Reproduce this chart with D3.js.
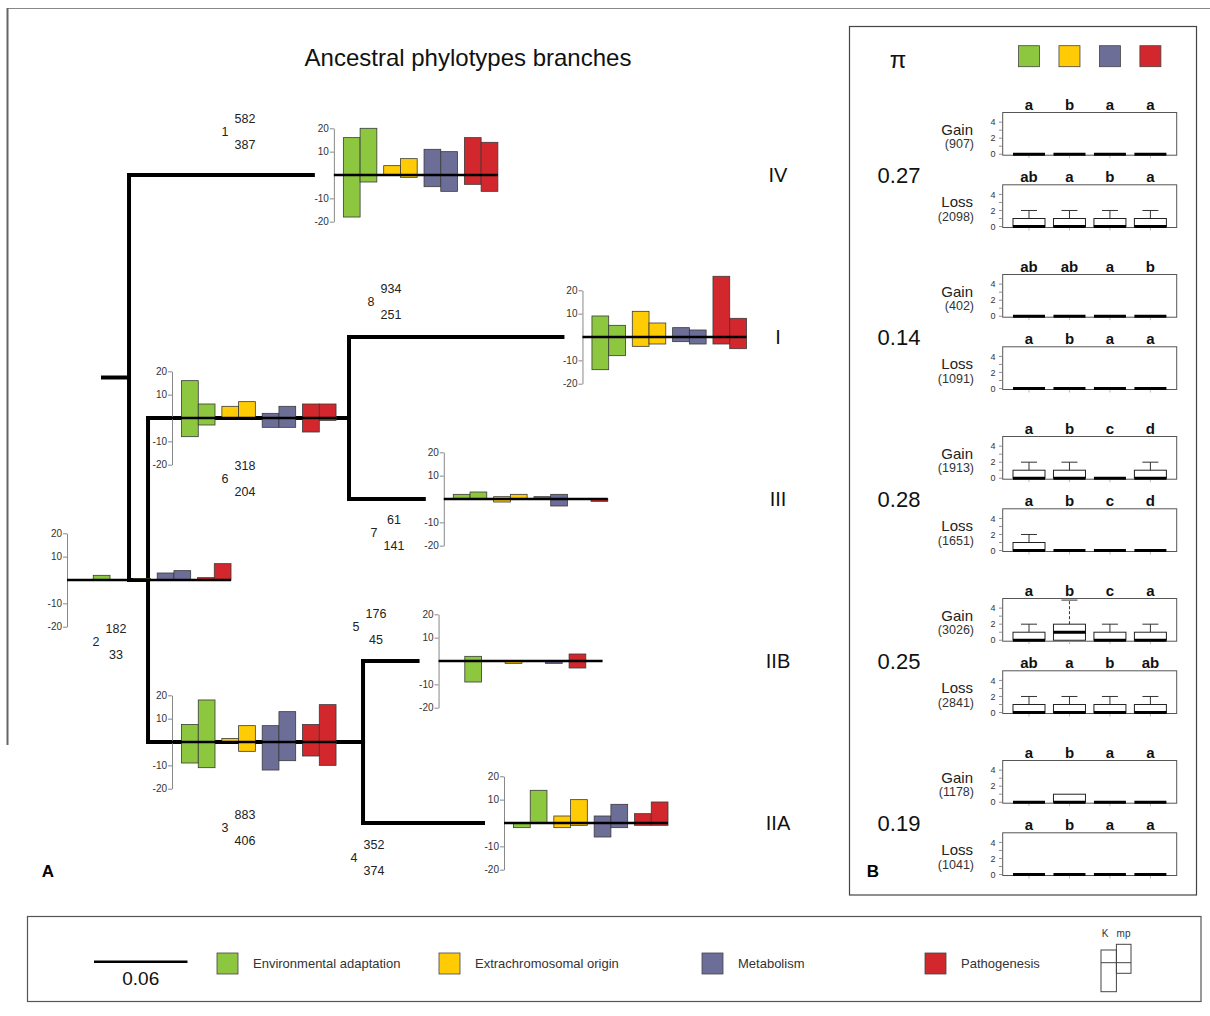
<!DOCTYPE html>
<html>
<head>
<meta charset="utf-8">
<script src="https://cdn.jsdelivr.net/npm/d3@7"></script>
<style>
  body { margin: 0; background: #fff; }
  svg { display: block; }
  text { font-family: "Liberation Sans", Arial, Helvetica, sans-serif; }
</style>
</head>
<body>
<svg id="fig" width="1210" height="1016"></svg>
<script>
// ---------- data ----------
const categories = ["Environmental adaptation", "Extrachromosomal origin", "Metabolism", "Pathogenesis"];
const categoryColors = ["#8dc63f", "#ffcb05", "#6d6e98", "#d2272d"];
const methods = ["K", "mp"];
const clades = ["IV", "I", "III", "IIB", "IIA"];

// phylogeny (branch lengths, substitutions/site)
const treeNodes = [
  { id: "root", parent: null,   length: 0.0167 },
  { id: "IV",   parent: "root", length: 0.118 },
  { id: "n2",   parent: "root", length: 0.0122 },
  { id: "n6",   parent: "n2",   length: 0.129 },
  { id: "n3",   parent: "n2",   length: 0.138 },
  { id: "I",    parent: "n6",   length: 0.137 },
  { id: "III",  parent: "n6",   length: 0.048 },
  { id: "IIB",  parent: "n3",   length: 0.035 },
  { id: "IIA",  parent: "n3",   length: 0.077 }
];

// numbered branches: node carrying the branch, upper / lower counts
const branchNodes = ["IV", "n2", "n3", "IIA", "IIB", "n6", "III", "I"];
const branchUpper = [582, 182, 883, 352, 176, 318, 61, 934];
const branchLower = [387, 33, 406, 374, 45, 204, 141, 251];

// floating bars per branch: [low, high] for K then mp, per category
const bars1 = [[-18, 16], [-3, 20], [0, 4], [-1, 7], [-5, 11], [-7, 10], [-4, 16], [-7, 14]];
const bars2 = [[0, 0], [0, 2], [0, 0], [0, 0.6], [0, 3], [0, 4], [0, 1], [0, 7]];
const bars3 = [[-9, 7.5], [-11, 18], [0, 1.5], [-4, 7], [-12, 7], [-8, 13], [-6, 7.5], [-10, 16]];
const bars4 = [[-2, 0], [0, 14], [-2, 3], [-1, 10], [-6, 3], [-2, 8], [-1, 4], [-1, 9]];
const bars5 = [[0, 0], [-9, 2], [0, 0], [-1, 0], [0, 0], [-1, 0], [-3, 3], [0, 0]];
const bars6 = [[-8, 16], [-3, 6], [0, 5], [0, 7], [-4, 2], [-4, 5], [-6, 6], [-1, 6]];
const bars7 = [[0, 2], [0, 3], [-1.3, 1], [0, 2], [0, 1], [-3, 2], [0, 0], [-1, 0]];
const bars8 = [[-14, 9], [-8, 5], [-4, 11], [-3, 6], [-2, 4], [-3, 3], [-3, 26], [-5, 8]];
const barsByBranch = [bars1, bars2, bars3, bars4, bars5, bars6, bars7, bars8];
const barTicks = [-20, -10, 10, 20];

// panel B
const piValues = [0.27, 0.14, 0.28, 0.25, 0.19];
const gainCounts = [907, 402, 1913, 3026, 1178];
const lossCounts = [2098, 1091, 1651, 2841, 1041];
const gainLetters = [["a","b","a","a"], ["ab","ab","a","b"], ["a","b","c","d"], ["a","b","c","a"], ["a","b","a","a"]];
const lossLetters = [["ab","a","b","a"], ["a","b","a","a"], ["a","b","c","d"], ["ab","a","b","ab"], ["a","b","a","a"]];
// box statistics: [q1, median, q3, upper whisker]
const gainStats = [
  [[0,0,0,0], [0,0,0,0], [0,0,0,0], [0,0,0,0]],
  [[0,0,0,0], [0,0,0,0], [0,0,0,0], [0,0,0,0]],
  [[0,0,1,2], [0,0,1,2], [0,0,0,0], [0,0,1,2]],
  [[0,0,1,2], [0,1,2,5], [0,0,1,2], [0,0,1,2]],
  [[0,0,0,0], [0,0,1,1], [0,0,0,0], [0,0,0,0]]
];
const lossStats = [
  [[0,0,1,2], [0,0,1,2], [0,0,1,2], [0,0,1,2]],
  [[0,0,0,0], [0,0,0,0], [0,0,0,0], [0,0,0,0]],
  [[0,0,1,2], [0,0,0,0], [0,0,0,0], [0,0,0,0]],
  [[0,0,1,2], [0,0,1,2], [0,0,1,2], [0,0,1,2]],
  [[0,0,0,0], [0,0,0,0], [0,0,0,0], [0,0,0,0]]
];
const boxTicks = [0, 1, 2, 3, 4];
const boxTickLabels = [0, 2, 4];
const scaleBarValue = 0.06;

// ---------- layout ----------
const layout = {
  chartPlace: [
    { ref: "end", dx: 21 }, { ref: "start", dx: -62 }, { ref: "start", dx: 24 }, { ref: "end", dx: 21 },
    { ref: "end", dx: 21 }, { ref: "start", dx: 24 }, { ref: "end", dx: 20 }, { ref: "end", dx: 20 }
  ],
  labelPlace: [[96, -43], [-33, 62], [77, 86], [-9, 35], [-7, -34], [77, 61], [25, 34], [22, -35]],
  legendX: [217, 439, 702, 925]
};

const svg = d3.select("#fig");
svg.append("rect").attr("width", 1210).attr("height", 1016).attr("fill", "#fff");

// frame lines of panel A
svg.append("line").attr("x1", 7).attr("x2", 1210).attr("y1", 8.5).attr("y2", 8.5)
  .attr("stroke", "#888").attr("stroke-width", 1.2);
svg.append("line").attr("x1", 7.5).attr("x2", 7.5).attr("y1", 8).attr("y2", 745)
  .attr("stroke", "#666").attr("stroke-width", 2);

// title
svg.append("text").attr("x", 468).attr("y", 66).attr("text-anchor", "middle")
  .attr("font-size", 24).attr("fill", "#111").text("Ancestral phylotypes branches");

// ---------- tree ----------
const xTree = d3.scaleLinear().domain([0, 1]).range([103, 103 + 1558]);
const yLeaf = d3.scalePoint().domain(clades).range([175, 823]);

const root = d3.stratify().id(d => d.id).parentId(d => d.parent)(treeNodes);
root.eachBefore(n => { n.dist = (n.parent ? n.parent.dist : 0) + n.data.length; n.px = xTree(n.dist); });
root.eachAfter(n => { n.py = n.children ? d3.mean(n.children, c => c.py) : yLeaf(n.id); });

const treeG = svg.append("g").attr("stroke", "#000").attr("stroke-width", 4).attr("stroke-linecap", "square");
treeG.append("line").attr("x1", xTree(0)).attr("x2", root.px).attr("y1", root.py).attr("y2", root.py);
root.descendants().forEach(n => {
  if (n.parent) {
    treeG.append("line").attr("x1", n.parent.px).attr("x2", n.px).attr("y1", n.py).attr("y2", n.py);
  }
  if (n.children) {
    const ys = n.children.map(c => c.py);
    treeG.append("line").attr("x1", n.px).attr("x2", n.px)
      .attr("y1", d3.min(ys)).attr("y2", d3.max(ys));
  }
});

const nodeById = new Map(root.descendants().map(n => [n.id, n]));

// clade names
clades.forEach(c => {
  svg.append("text").attr("x", 778).attr("y", yLeaf(c)).attr("dy", "0.35em")
    .attr("text-anchor", "middle").attr("font-size", 20).attr("fill", "#111").text(c);
});

// ---------- branch bar charts ----------
const catBand = d3.scaleBand().domain(categories).range([9.5, 164]).paddingInner(0.17);
const subBand = d3.scaleBand().domain(methods).range([0, catBand.bandwidth()]);
const yBar = d3.scaleLinear().domain([-20, 20]).range([46.7, -46.7]);

branchNodes.forEach((id, bi) => {
  const node = nodeById.get(id);
  const place = layout.chartPlace[bi];
  const ax = (place.ref === "end" ? node.px : node.parent.px) + place.dx;
  const g = svg.append("g").attr("transform", `translate(${ax},${node.py})`);

  const axis = g.append("g").call(
    d3.axisLeft(yBar).tickValues(barTicks).tickFormat(d => String(d))
      .tickSize(4).tickSizeOuter(0).tickPadding(1)
  );
  axis.select(".domain").attr("stroke", "#888");
  axis.selectAll(".tick line").attr("stroke", "#888");
  axis.selectAll(".tick text").attr("font-size", 10).attr("fill", "#333")
    .attr("font-family", "'Liberation Sans', Arial, sans-serif");

  const data = barsByBranch[bi].map((v, i) => ({
    cat: categories[Math.floor(i / 2)], color: categoryColors[Math.floor(i / 2)],
    method: methods[i % 2], low: v[0], high: v[1]
  })).filter(d => d.high !== d.low);

  g.selectAll("rect.bar").data(data).join("rect").attr("class", "bar")
    .attr("x", d => catBand(d.cat) + subBand(d.method))
    .attr("width", subBand.bandwidth())
    .attr("y", d => yBar(d.high))
    .attr("height", d => yBar(d.low) - yBar(d.high))
    .attr("fill", d => d.color)
    .attr("stroke", "#3a3a3a").attr("stroke-width", 0.8);

  g.append("line").attr("x1", 0).attr("x2", catBand.range()[1])
    .attr("y1", yBar(0)).attr("y2", yBar(0))
    .attr("stroke", "#000").attr("stroke-width", 2.6);

  // branch number with its two counts
  const [ldx, ldy] = layout.labelPlace[bi];
  const lx = node.parent.px + ldx, ly = node.py + ldy;
  const lab = svg.append("g").attr("font-size", 12.5).attr("fill", "#222").attr("text-anchor", "middle");
  lab.append("text").attr("x", lx).attr("y", ly).attr("dy", "0.35em").text(bi + 1);
  lab.append("text").attr("x", lx + 20).attr("y", ly - 13).attr("dy", "0.35em").text(branchUpper[bi]);
  lab.append("text").attr("x", lx + 20).attr("y", ly + 13).attr("dy", "0.35em").text(branchLower[bi]);
});

svg.append("text").attr("x", 48).attr("y", 877).attr("text-anchor", "middle")
  .attr("font-size", 17).attr("font-weight", "bold").text("A");

// ---------- panel B ----------
svg.append("rect").attr("x", 849.5).attr("y", 26.5).attr("width", 347).attr("height", 868.5)
  .attr("fill", "none").attr("stroke", "#444").attr("stroke-width", 1.2);

const xBox = d3.scalePoint().domain(categories).range([1002.7, 1176.7]).padding(0.65);
const boxW = 32, panelH = 42.7;

svg.append("text").attr("x", 898).attr("y", 60).attr("dy", "0.35em").attr("text-anchor", "middle")
  .attr("font-size", 24).attr("fill", "#111").text("π");
categories.forEach((c, i) => {
  svg.append("rect").attr("x", xBox(c) - 10.5).attr("y", 45.7).attr("width", 21).attr("height", 21)
    .attr("fill", categoryColors[i]).attr("stroke", "#444").attr("stroke-width", 0.8);
});

function drawBoxPanel(top, stats, letters, label, count) {
  const y = d3.scaleLinear().domain([-0.12, 5.2]).range([top + panelH, top]);
  const g = svg.append("g");
  g.append("rect").attr("x", 1002.7).attr("y", top).attr("width", 174).attr("height", panelH)
    .attr("fill", "#fff").attr("stroke", "#555").attr("stroke-width", 1);
  boxTicks.forEach(t => {
    g.append("line").attr("x1", 999).attr("x2", 1002.7).attr("y1", y(t)).attr("y2", y(t))
      .attr("stroke", "#777").attr("stroke-width", 0.8);
  });
  boxTickLabels.forEach(t => {
    g.append("text").attr("x", 993).attr("y", y(t)).attr("dy", "0.35em").attr("text-anchor", "middle")
      .attr("font-size", 9).attr("fill", "#333").text(t);
  });
  categories.forEach((c, i) => {
    const cx = xBox(c);
    const [q1, med, q3, wHi] = stats[i];
    g.append("line").attr("x1", cx).attr("x2", cx).attr("y1", top + panelH).attr("y2", top + panelH + 3)
      .attr("stroke", "#aaa").attr("stroke-width", 0.8);
    if (wHi > q3) {
      g.append("line").attr("x1", cx).attr("x2", cx).attr("y1", y(q3)).attr("y2", y(wHi))
        .attr("stroke", "#333").attr("stroke-width", 1).attr("stroke-dasharray", wHi - q3 > 1.5 ? "3,2" : null);
      g.append("line").attr("x1", cx - 8).attr("x2", cx + 8).attr("y1", y(wHi)).attr("y2", y(wHi))
        .attr("stroke", "#333").attr("stroke-width", 1);
    }
    if (q3 > q1) {
      g.append("rect").attr("x", cx - boxW / 2).attr("y", y(q3)).attr("width", boxW)
        .attr("height", y(q1) - y(q3)).attr("fill", "#fff").attr("stroke", "#222").attr("stroke-width", 1);
    }
    g.append("line").attr("x1", cx - boxW / 2).attr("x2", cx + boxW / 2).attr("y1", y(med)).attr("y2", y(med))
      .attr("stroke", "#000").attr("stroke-width", 3);
    g.append("text").attr("x", cx).attr("y", top - 8).attr("dy", "0.35em").attr("text-anchor", "middle")
      .attr("font-size", 15).attr("font-weight", "bold").attr("fill", "#111").text(letters[i]);
  });
  g.append("text").attr("x", 973).attr("y", top + 17).attr("dy", "0.35em").attr("text-anchor", "end")
    .attr("font-size", 15).attr("fill", "#222").text(label);
  g.append("text").attr("x", 974).attr("y", top + 31.5).attr("dy", "0.35em").attr("text-anchor", "end")
    .attr("font-size", 12.5).attr("fill", "#333").text(`(${count})`);
}

clades.forEach((c, k) => {
  const cy = yLeaf(c);
  const gainTop = cy - 62.5, lossTop = gainTop + 72.3;
  drawBoxPanel(gainTop, gainStats[k], gainLetters[k], "Gain", gainCounts[k]);
  drawBoxPanel(lossTop, lossStats[k], lossLetters[k], "Loss", lossCounts[k]);
  svg.append("text").attr("x", 899).attr("y", cy).attr("dy", "0.35em").attr("text-anchor", "middle")
    .attr("font-size", 22).attr("fill", "#111").text(piValues[k].toFixed(2));
});

svg.append("text").attr("x", 873).attr("y", 877).attr("text-anchor", "middle")
  .attr("font-size", 17).attr("font-weight", "bold").text("B");

// ---------- legend ----------
svg.append("rect").attr("x", 27.5).attr("y", 916.5).attr("width", 1173.5).attr("height", 85)
  .attr("fill", "none").attr("stroke", "#555").attr("stroke-width", 1.2);

const barLen = xTree(scaleBarValue) - xTree(0);
svg.append("line").attr("x1", 94).attr("x2", 94 + barLen).attr("y1", 961.7).attr("y2", 961.7)
  .attr("stroke", "#000").attr("stroke-width", 2.6);
svg.append("text").attr("x", 94 + barLen / 2).attr("y", 978).attr("dy", "0.35em").attr("text-anchor", "middle")
  .attr("font-size", 19).attr("fill", "#111").text(scaleBarValue.toFixed(2));

categories.forEach((c, i) => {
  const lx = layout.legendX[i];
  svg.append("rect").attr("x", lx).attr("y", 953).attr("width", 21).attr("height", 21)
    .attr("fill", categoryColors[i]).attr("stroke", "#444").attr("stroke-width", 0.8);
  svg.append("text").attr("x", lx + 36).attr("y", 963.5).attr("dy", "0.35em")
    .attr("font-size", 13).attr("fill", "#333").text(c);
});

// K / mp key
const key = svg.append("g").attr("fill", "none").attr("stroke", "#444").attr("stroke-width", 1);
key.append("rect").attr("x", 1101).attr("y", 950).attr("width", 15.4).attr("height", 41.7);
key.append("rect").attr("x", 1116.4).attr("y", 944.3).attr("width", 14.6).attr("height", 29);
key.append("line").attr("x1", 1101).attr("x2", 1131).attr("y1", 962.7).attr("y2", 962.7);
svg.append("text").attr("x", 1105).attr("y", 933).attr("dy", "0.35em").attr("text-anchor", "middle")
  .attr("font-size", 10).attr("fill", "#333").text(methods[0]);
svg.append("text").attr("x", 1123.5).attr("y", 933).attr("dy", "0.35em").attr("text-anchor", "middle")
  .attr("font-size", 10).attr("fill", "#333").text(methods[1]);
</script>
</body>
</html>
